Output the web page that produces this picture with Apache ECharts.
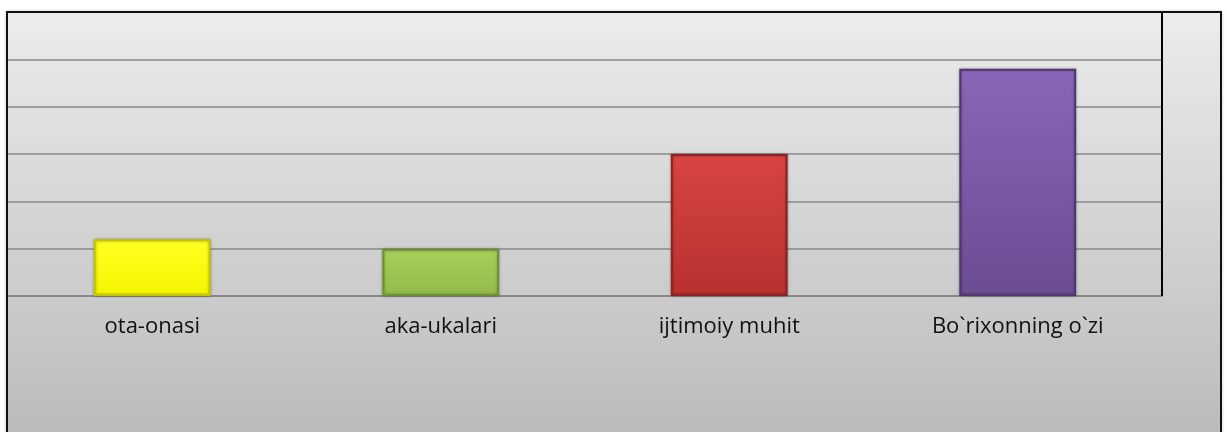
<!DOCTYPE html>
<html>
<head>
<meta charset="utf-8">
<title>chart</title>
<script src="https://cdn.jsdelivr.net/npm/echarts@6/dist/echarts.min.js"></script>
<style>
    html, body { margin: 0; padding: 0; background: #fff; }
    #main { width: 1227px; height: 432px; }
</style>
</head>
<body>
<div id="main"></div>
<script>
// 分类
var categories = ['ota-onasi', 'aka-ukalari', 'ijtimoiy muhit', 'Bo`rixonning o`zi'];
// 数值
var values = [1.2, 1.0, 3.0, 4.8];
// 柱子颜色 [上, 下, 边框]
var barColors = [
    ['#ffff22', '#f5f500', '#c4c400'],
    ['#a9cf5c', '#93bb49', '#6f9030'],
    ['#d84442', '#b8312f', '#8e2220'],
    ['#8a66b8', '#6b4d92', '#4e3670']
];

var chart = echarts.init(document.getElementById('main'));

function grad(top, bottom) {
    return new echarts.graphic.LinearGradient(0, 0, 0, 1, [
        { offset: 0, color: top },
        { offset: 1, color: bottom }
    ]);
}

var data = values.map(function (v, i) {
    return {
        value: v,
        itemStyle: {
            color: grad(barColors[i][0], barColors[i][1]),
            borderColor: barColors[i][2],
            borderWidth: 2,
            shadowBlur: 3,
            shadowColor: 'rgba(0,0,0,0.3)'
        }
    };
});

var option = {
    animation: false,
    graphic: [{
        // 背景
        type: 'rect',
        z: -10,
        shape: { x: 7, y: 12, width: 1214, height: 440 },
        style: {
            fill: grad('#ececec', '#b9b9b9'),
            shadowBlur: 4,
            shadowColor: 'rgba(0,0,0,0.35)'
        }
    }, {
        // 外框
        type: 'rect',
        z: 100,
        silent: true,
        shape: { x: 7, y: 12, width: 1214, height: 440 },
        style: { fill: null, stroke: '#111', lineWidth: 2 }
    }, {
        // 绘图区右边线
        type: 'line',
        z: 100,
        silent: true,
        shape: { x1: 1162, y1: 12, x2: 1162, y2: 296 },
        style: { stroke: '#000', lineWidth: 2 }
    }],
    grid: {
        left: 8,
        top: 12,
        width: 1154,
        height: 284
    },
    xAxis: {
        type: 'category',
        data: categories,
        axisLine: { lineStyle: { color: '#888', width: 2 } },
        axisTick: { length: 5, lineStyle: { color: '#888' } },
        axisLabel: {
            margin: 20,
            fontFamily: 'Open Sans',
            fontSize: 22,
            color: '#111'
        }
    },
    yAxis: {
        type: 'value',
        min: 0,
        max: 6,
        interval: 1,
        axisLine: { show: false },
        axisTick: { show: false },
        axisLabel: { show: false },
        splitLine: { lineStyle: { color: '#888', width: 1.5 } }
    },
    series: [{
        type: 'bar',
        barWidth: '40.5%',
        data: data
    }]
};

chart.setOption(option);
</script>
</body>
</html>
